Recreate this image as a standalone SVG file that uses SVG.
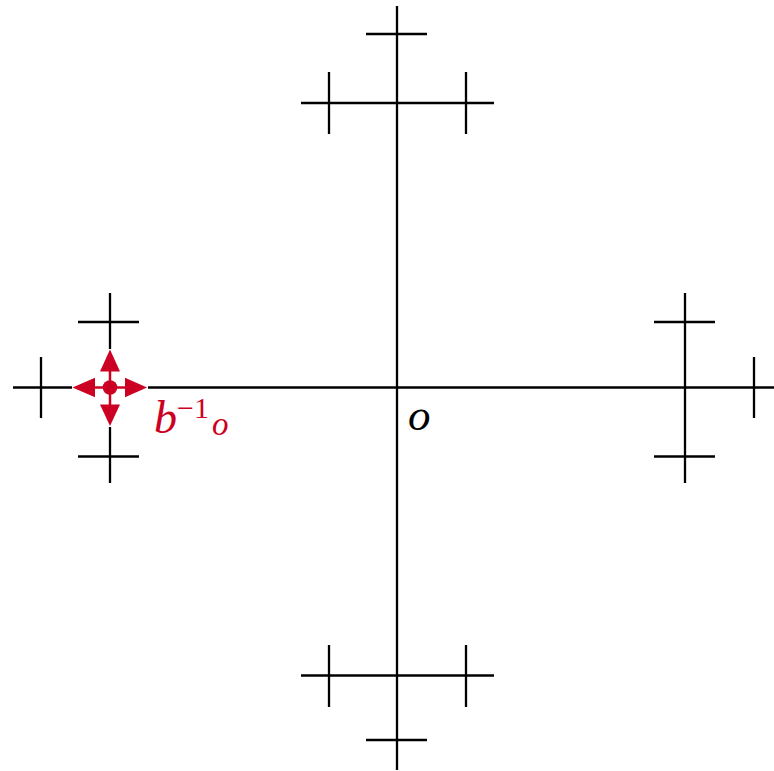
<svg xmlns="http://www.w3.org/2000/svg" width="774" height="771" viewBox="0 0 774 771">
<defs>
<style>
.e{stroke:#000;stroke-width:2.3;fill:none;stroke-linecap:butt}
.r{stroke:#cc0022;stroke-width:2.5;fill:none}
.rf{fill:#cc0022;stroke:none}
.lbl{font-family:"Liberation Serif",serif;font-style:italic}
</style>
</defs>
<rect width="774" height="771" fill="#fff"/>
<g id="connectors">
<line class="e" x1="13" y1="387.5" x2="774" y2="387.5"/>
<line class="e" x1="397" y1="6" x2="397" y2="770"/>
<!-- top -->
<line class="e" x1="301" y1="103" x2="494" y2="103"/>
<line class="e" x1="329" y1="72" x2="329" y2="134"/>
<line class="e" x1="466" y1="72" x2="466" y2="134"/>
<line class="e" x1="366" y1="34" x2="427" y2="34"/>
<!-- bottom -->
<line class="e" x1="301" y1="675.5" x2="494" y2="675.5"/>
<line class="e" x1="329" y1="645" x2="329" y2="707"/>
<line class="e" x1="466" y1="645" x2="466" y2="707"/>
<line class="e" x1="366" y1="740" x2="427" y2="740"/>
<!-- left -->
<line class="e" x1="110" y1="293" x2="110" y2="483"/>
<line class="e" x1="78" y1="322" x2="139" y2="322"/>
<line class="e" x1="78" y1="456.5" x2="139" y2="456.5"/>
<line class="e" x1="41" y1="357" x2="41" y2="418"/>
<!-- right -->
<line class="e" x1="685" y1="293" x2="685" y2="483"/>
<line class="e" x1="654" y1="322" x2="715" y2="322"/>
<line class="e" x1="654" y1="456.5" x2="715" y2="456.5"/>
<line class="e" x1="754" y1="357" x2="754" y2="418"/>
</g>
<g id="node-o">
<text class="lbl" x="408" y="430" font-size="45" fill="#000">o</text>
</g>
<g id="node-b-inv-o">
<rect x="72" y="349" width="76" height="78" fill="#fff"/>
<line class="r" x1="110" y1="365" x2="110" y2="410"/>
<line class="r" x1="90" y1="387.5" x2="130" y2="387.5"/>
<polygon class="rf" points="110,349.5 100,371.5 120,371.5"/>
<polygon class="rf" points="110,426 100,404.5 120,404.5"/>
<polygon class="rf" points="72.5,387.5 95,377.8 95,397.2"/>
<polygon class="rf" points="147,387.5 125,377.8 125,397.2"/>
<circle class="rf" cx="110" cy="387.5" r="7.3"/>
<text class="lbl" fill="#cc0022"><tspan x="154" y="433" font-size="46">b</tspan><tspan x="177" y="418" font-size="30" font-style="normal">−1</tspan><tspan x="212" y="435" font-size="33">o</tspan></text>
</g>
</svg>
